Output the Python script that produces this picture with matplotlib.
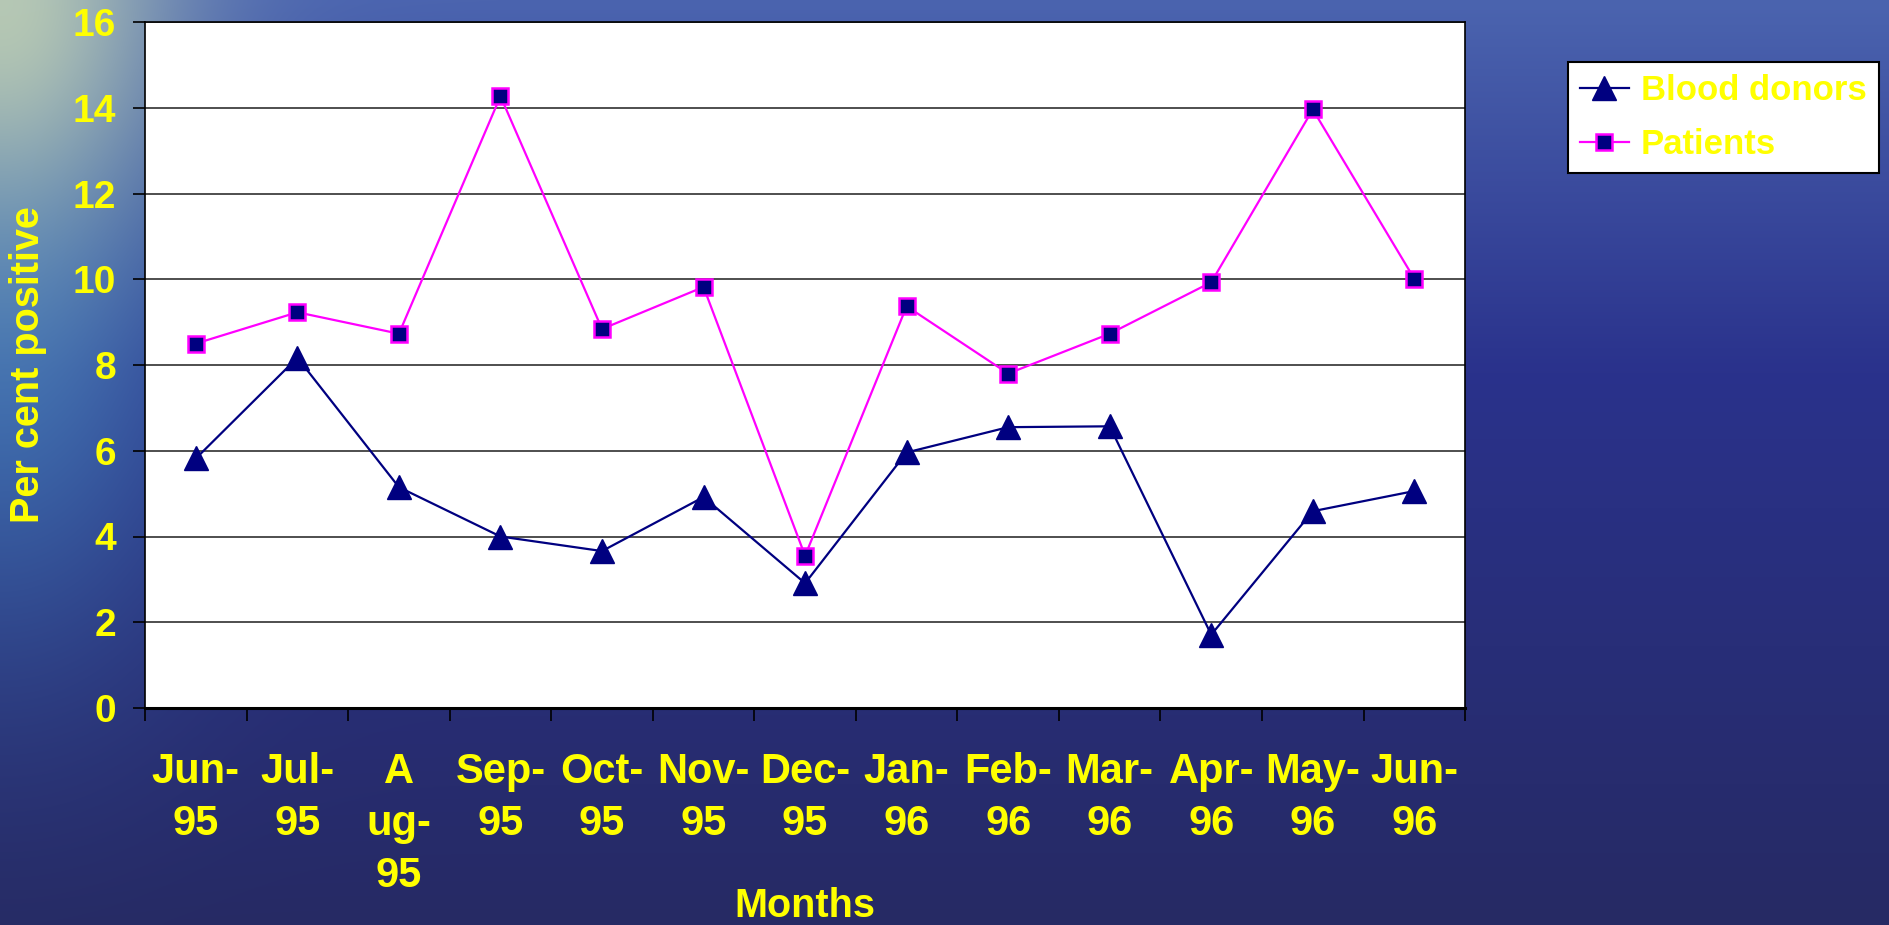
import numpy as np
import matplotlib
matplotlib.use("Agg")
import matplotlib.pyplot as plt

months = ["Jun-\n95", "Jul-\n95", "A\nug-\n95", "Sep-\n95", "Oct-\n95", "Nov-\n95",
          "Dec-\n95", "Jan-\n96", "Feb-\n96", "Mar-\n96", "Apr-\n96", "May-\n96", "Jun-\n96"]
blood_donors = [5.82, 8.17, 5.15, 4.0, 3.66, 4.92, 2.91, 5.96, 6.55, 6.57, 1.71, 4.59, 5.06]
patients = [8.5, 9.23, 8.73, 14.27, 8.84, 9.82, 3.55, 9.37, 7.8, 8.73, 9.93, 13.96, 10.01]
y_ticks = [0, 2, 4, 6, 8, 10, 12, 14, 16]

YELLOW = "#FFFF00"
NAVY = "#000080"
MAGENTA = "#FF00FF"

fig = plt.figure(figsize=(18.89, 9.25), dpi=100)

# background: deep blue water, pale at the top-left corner, cyan down the left edge
h, w = 185, 378
yy, xx = np.mgrid[0:1:h * 1j, 0:1:w * 1j]
top = np.array([75, 100, 175]) / 255
mid = np.array([42, 50, 140]) / 255
bot = np.array([38, 42, 100]) / 255
t = yy[..., None]
img = np.where(t < 0.4, top + (mid - top) * (t / 0.4), mid + (bot - mid) * ((t - 0.4) / 0.6))
cyan = np.exp(-((xx / 0.10) ** 2) - ((yy - 0.35) / 0.35) ** 2)[..., None]
img = img * (1 - 0.6 * cyan) + 0.6 * cyan * np.array([75, 150, 200]) / 255
pale = np.exp(-((xx / 0.09) ** 2) - ((yy / 0.25) ** 2))[..., None]
img = img * (1 - 0.85 * pale) + 0.85 * pale * np.array([200, 215, 180]) / 255
bg = fig.add_axes([0, 0, 1, 1], zorder=-10)
bg.imshow(np.clip(img, 0, 1), aspect="auto", interpolation="bicubic", extent=[0, 1, 0, 1])
bg.axis("off")

ax = fig.add_axes([0.0768, 0.2346, 0.6988, 0.7416])
ax.set_facecolor("white")
x = np.arange(len(months))

ax.plot(x, blood_donors, color=NAVY, lw=1.6, marker="^", ms=17, mfc=NAVY, mec=NAVY,
        label="Blood donors", zorder=3)
ax.plot(x, patients, color=MAGENTA, lw=1.6, marker="s", ms=11, mfc=NAVY, mec=MAGENTA,
        mew=1.8, label="Patients", zorder=3)

ax.set_xlim(-0.5, len(months) - 0.5)
ax.set_ylim(0, 16)
ax.set_yticks(y_ticks)
ax.set_yticklabels([str(v) for v in y_ticks], fontsize=28, fontweight="bold",
                   color=YELLOW, family="Liberation Sans")
ax.tick_params(axis="y", length=9, width=1.2, color="black", pad=12)
ax.yaxis.grid(True, color="#303030", lw=1.2)
ax.set_axisbelow(True)

ax.set_xticks(x)
ax.set_xticklabels(months, fontsize=30, fontweight="bold", color=YELLOW,
                   family=["Liberation Sans Narrow", "Liberation Sans"], linespacing=1.38,
                   va="top")
ax.tick_params(axis="x", which="major", length=0, pad=32)
ax.set_xticks(np.arange(-0.5, len(months), 1), minor=True)
ax.tick_params(axis="x", which="minor", length=9, width=1.2, color="black")

for s in ax.spines.values():
    s.set_color("black")
    s.set_linewidth(1.2)
ax.spines["bottom"].set_linewidth(2.2)

ax.set_ylabel("Per cent positive", fontsize=28.5, fontweight="bold", color=YELLOW,
              family="Liberation Sans")
ax.yaxis.set_label_coords(-0.074, 0.5)
fig.text(0.426, 1 - 906 / 925, "Months", fontsize=28.5, fontweight="bold", color=YELLOW,
         family="Liberation Sans", ha="center", va="center")

leg = fig.legend(loc="upper left", bbox_to_anchor=(1568 / 1889, 1 - 62 / 925),
                 prop={"family": "Liberation Sans", "weight": "bold", "size": 25},
                 frameon=True, fancybox=False, framealpha=1, edgecolor="black",
                 handlelength=1.4, handletextpad=0.35, labelspacing=0.6,
                 borderpad=0.35, borderaxespad=0)
leg.get_frame().set_linewidth(1.5)
for t in leg.get_texts():
    t.set_color(YELLOW)

fig.savefig("out.png", dpi=100)
